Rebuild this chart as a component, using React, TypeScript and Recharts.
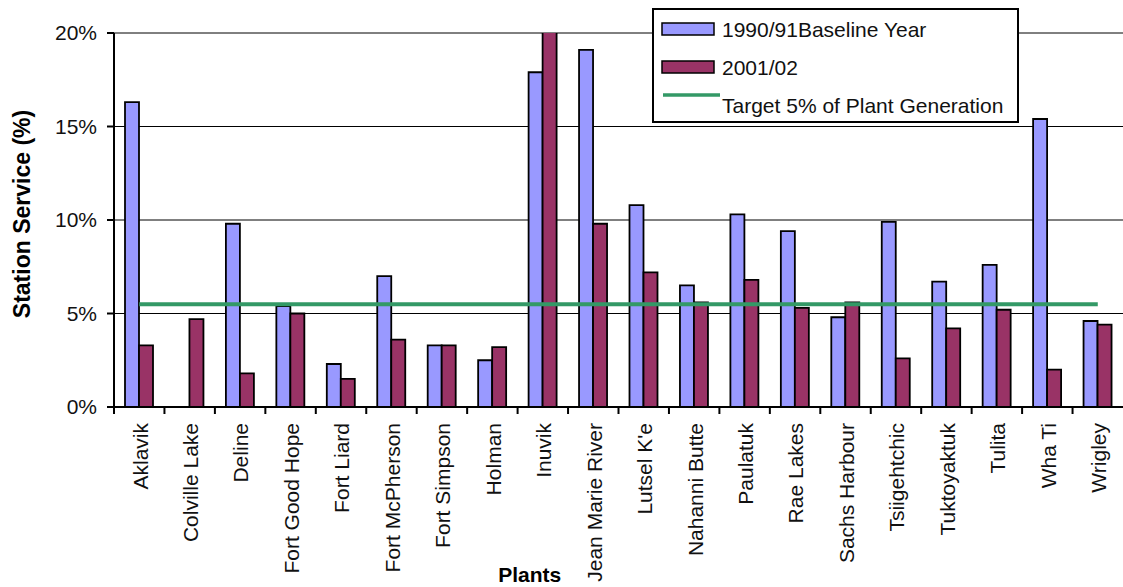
import { Bar, CartesianGrid, ComposedChart, Legend, Line, XAxis, YAxis } from 'recharts'

const plants = [
  'Aklavik',
  'Colville Lake',
  'Deline',
  'Fort Good Hope',
  'Fort Liard',
  'Fort McPherson',
  'Fort Simpson',
  'Holman',
  'Inuvik',
  'Jean Marie River',
  "Lutsel K'e",
  'Nahanni Butte',
  'Paulatuk',
  'Rae Lakes',
  'Sachs Harbour',
  'Tsiigehtchic',
  'Tuktoyaktuk',
  'Tulita',
  'Wha Ti',
  'Wrigley',
]

// station service as % of plant generation
const baseline9091 = [16.3, null, 9.8, 5.4, 2.3, 7.0, 3.3, 2.5, 17.9, 19.1, 10.8, 6.5, 10.3, 9.4, 4.8, 9.9, 6.7, 7.6, 15.4, 4.6]
const year0102 = [3.3, 4.7, 1.8, 5.0, 1.5, 3.6, 3.3, 3.2, 20.2, 9.8, 7.2, 5.6, 6.8, 5.3, 5.6, 2.6, 4.2, 5.2, 2.0, 4.4]
const targetLevel = 5.5

const yTicks = [0, 5, 10, 15, 20]

const rows = plants.map((plant, i) => ({
  plant,
  baseline: baseline9091[i],
  recent: year0102[i],
  target: targetLevel,
}))

const FONT = '"Liberation Sans", Arial, sans-serif'
const BLUE = '#9999ff'
const PLUM = '#993366'
const GREEN = '#339966'

function PlantTick(props: any) {
  const { x, y, payload } = props
  const half = payload.offset ?? 0
  return (
    <g>
      <line x1={x - half} x2={x - half} y1={y} y2={y + 7} stroke="#000" strokeWidth={2} />
      <text
        transform={`translate(${x + 1},${y + 16}) rotate(-90)`}
        textAnchor="end"
        dy="0.35em"
        fontSize={21}
        fontFamily={FONT}
        fill="#111"
      >
        {payload.value}
      </text>
    </g>
  )
}

function LegendBox() {
  return (
    <svg width={367} height={115} style={{ display: 'block' }}>
      <rect x={1} y={1} width={365} height={113} fill="#fff" stroke="#000" strokeWidth={2} />
      <rect x={10} y={15} width={52} height={12} fill={BLUE} stroke="#000" strokeWidth={1.5} />
      <text x={70} y={28.5} fontSize={21} fontFamily={FONT} fill="#111">
        1990/91Baseline Year
      </text>
      <rect x={10} y={53} width={52} height={12} fill={PLUM} stroke="#000" strokeWidth={1.5} />
      <text x={70} y={67} fontSize={21} fontFamily={FONT} fill="#111">
        2001/02
      </text>
      <line x1={11} x2={68} y1={87} y2={87} stroke={GREEN} strokeWidth={3.5} />
      <text x={70} y={105} fontSize={21} fontFamily={FONT} fill="#111">
        Target 5% of Plant Generation
      </text>
    </svg>
  )
}

export default function App() {
  return (
    <div style={{ position: 'absolute', left: 0, top: 0, width: 1123, height: 587, background: '#fff' }}>
      <ComposedChart
        width={1123}
        height={587}
        data={rows}
        barGap={0}
        margin={{ top: 33, right: 0, bottom: 0, left: 0 }}
      >
        <CartesianGrid vertical={false} stroke="#000" strokeWidth={1} />
        <XAxis
          dataKey="plant"
          interval={0}
          height={180}
          tickSize={0}
          tickMargin={0}
          tickLine={false}
          axisLine={{ stroke: '#000', strokeWidth: 2 }}
          tick={<PlantTick />}
          label={{
            content: (p: any) => {
              const vb = p.viewBox
              return (
                <text
                  x={vb.x + vb.width * 0.412}
                  y={vb.y + vb.height - 5}
                  textAnchor="middle"
                  fontSize={21}
                  fontWeight="bold"
                  fontFamily={FONT}
                  fill="#000"
                >
                  Plants
                </text>
              )
            },
          }}
        />
        <YAxis
          width={114}
          domain={[0, 20]}
          ticks={yTicks}
          allowDataOverflow
          tickFormatter={(v: number) => `${v}%`}
          tickSize={7}
          tickMargin={10}
          tickLine={{ stroke: '#000', strokeWidth: 2 }}
          axisLine={{ stroke: '#000', strokeWidth: 2 }}
          tick={{ fontSize: 21, fontFamily: FONT, fill: '#111' }}
          label={{
            content: (p: any) => {
              const vb = p.viewBox
              const cx = vb.x + 21.5
              const cy = vb.y + vb.height / 2 - 6
              return (
                <text
                  transform={`translate(${cx},${cy}) rotate(-90)`}
                  textAnchor="middle"
                  dy="0.35em"
                  fontSize={23}
                  fontWeight="bold"
                  fontFamily={FONT}
                  fill="#000"
                >
                  Station Service (%)
                </text>
              )
            },
          }}
        />
        <Legend
          layout="vertical"
          align="center"
          verticalAlign="middle"
          content={() => <LegendBox />}
          wrapperStyle={{ top: 8, left: 652, width: 367, height: 115 }}
        />
        <Bar
          dataKey="baseline"
          name="1990/91Baseline Year"
          fill={BLUE}
          stroke="#000"
          strokeWidth={1.8}
          barSize={14}
          isAnimationActive={false}
        />
        <Bar
          dataKey="recent"
          name="2001/02"
          fill={PLUM}
          stroke="#000"
          strokeWidth={1.8}
          barSize={14}
          isAnimationActive={false}
        />
        <Line
          dataKey="target"
          name="Target 5% of Plant Generation"
          stroke={GREEN}
          strokeWidth={4}
          dot={false}
          activeDot={false}
          isAnimationActive={false}
        />
      </ComposedChart>
    </div>
  )
}
